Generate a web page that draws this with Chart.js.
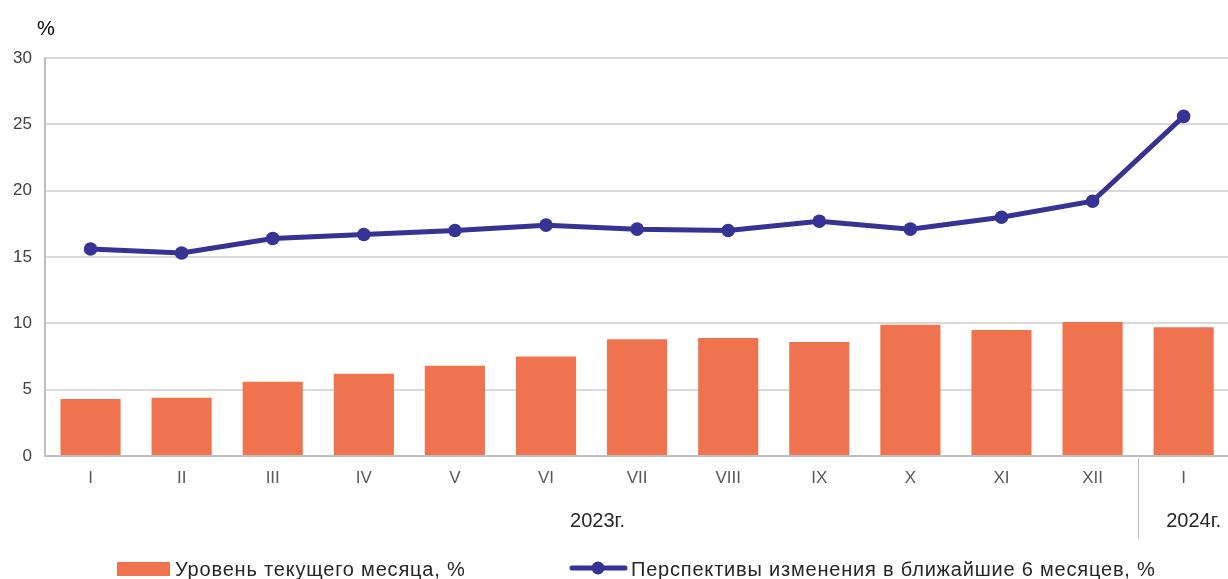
<!DOCTYPE html>
<html><head><meta charset="utf-8">
<script src="https://cdn.jsdelivr.net/npm/chart.js@4/dist/chart.umd.min.js"></script>
<style>html,body{margin:0;padding:0;overflow:hidden;background:#fff}#wrap{width:1236px;height:579px}</style>
</head><body><div id="wrap"><canvas id="c" width="1236" height="579"></canvas></div>
<script>
const categories = ['I','II','III','IV','V','VI','VII','VIII','IX','X','XI','XII','I'];
const years = [{label:'2023г.', from:0, to:11},{label:'2024г.', from:12, to:12}];
const barLabel = 'Уровень текущего месяца, %';
const lineLabel = 'Перспективы изменения в ближайшие 6 месяцев, %';
const barValues = [4.3,4.4,5.6,6.2,6.8,7.5,8.8,8.9,8.6,9.9,9.5,10.1,9.7];
const lineValues = [15.6,15.3,16.4,16.7,17.0,17.4,17.1,17.0,17.7,17.1,18.0,19.2,25.6];
const yMin = 0, yMax = 30, yStep = 5;
const unitLabel = '%';

const FONT = '"Liberation Sans", Arial, sans-serif';
const BAR = '#F07350', LINE = '#363394';

const extras = {
  id:'extras',
  afterDraw(chart){
    const ctx = chart.ctx, x = chart.scales.x, ca = chart.chartArea;
    ctx.save();
    ctx.fillStyle = '#000'; ctx.font = '20px '+FONT; ctx.textBaseline='middle'; ctx.textAlign='left';
    ctx.fillText(unitLabel, 37, 29);
    ctx.strokeStyle = '#bfbfbf'; ctx.lineWidth = 1;
    years.forEach((y,i)=>{
      if(i>0){
        const sx = Math.round((x.getPixelForValue(y.from-1)+x.getPixelForValue(y.from))/2)+0.5;
        ctx.beginPath(); ctx.moveTo(sx, ca.bottom+2); ctx.lineTo(sx, 539); ctx.stroke();
      }
      const cx = (x.getPixelForValue(y.from)+x.getPixelForValue(y.to))/2;
      ctx.fillStyle = '#262626'; ctx.font = '20px '+FONT; ctx.textAlign='center';
      ctx.fillText(y.label, cx + (i===0?6:10), 521);
    });
    // legend
    ctx.textAlign='left'; ctx.font = '20px '+FONT;
    if ('letterSpacing' in ctx) ctx.letterSpacing = '0.8px';
    ctx.fillStyle = BAR; ctx.fillRect(117, 562, 53, 14);
    ctx.fillStyle = '#262626'; ctx.fillText(barLabel, 175, 570);
    ctx.strokeStyle = LINE; ctx.lineWidth = 5; ctx.lineCap='round';
    ctx.beginPath(); ctx.moveTo(572, 568); ctx.lineTo(625, 568); ctx.stroke();
    ctx.fillStyle = LINE; ctx.beginPath(); ctx.arc(598, 568, 6.5, 0, Math.PI*2); ctx.fill();
    ctx.fillStyle = '#262626'; ctx.fillText(lineLabel, 631, 570);
    ctx.restore();
  }
};

new Chart(document.getElementById('c'), {
  data:{
    labels: categories,
    datasets:[
      {type:'line', label: lineLabel, data: lineValues, borderColor: LINE, backgroundColor: LINE,
       borderWidth:5, pointRadius:6.8, pointHoverRadius:6.8, pointBackgroundColor: LINE, pointBorderWidth:0, tension:0, order:0},
      {type:'bar', label: barLabel, data: barValues, backgroundColor: BAR, barPercentage:0.66, categoryPercentage:1.0, order:1}
    ]
  },
  options:{
    responsive:false, animation:false, events:[],
    layout:{padding:{top:58, left:0, right:2, bottom:0}},
    plugins:{legend:{display:false}, tooltip:{enabled:false}},
    scales:{
      x:{
        grid:{display:false, drawTicks:false},
        border:{color:'#bfbfbf', width:2},
        ticks:{color:'#595959', font:{family:FONT, size:17}, padding:12, maxRotation:0, autoSkip:false},
        afterFit(s){ s.height = 123; }
      },
      y:{
        min:yMin, max:yMax,
        grid:{color:'#d9d9d9', lineWidth:2, drawTicks:false},
        border:{display:true, color:'#bfbfbf', width:2},
        ticks:{stepSize:yStep, color:'#404040', font:{family:FONT, size:17}, padding:13},
        afterFit(s){ s.width = 45; }
      }
    }
  },
  plugins:[extras]
});
</script></body></html>
